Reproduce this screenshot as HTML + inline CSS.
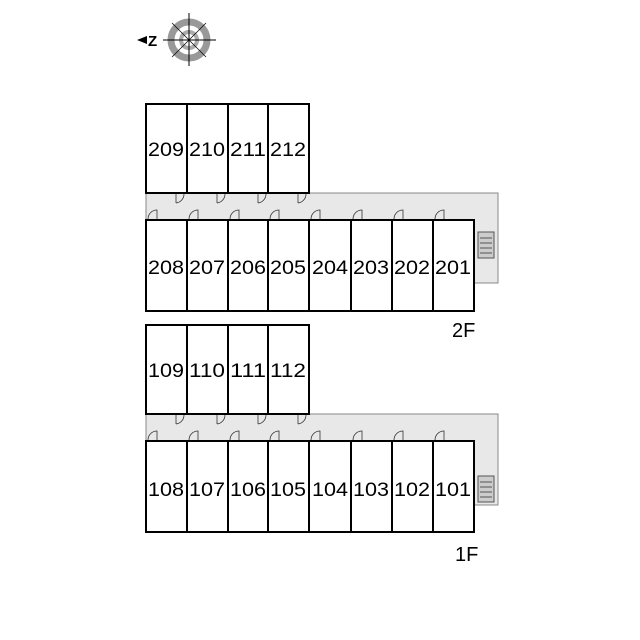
<!DOCTYPE html>
<html><head><style>body{margin:0;background:#fff}svg{display:block}</style></head><body>
<svg width="640" height="640" viewBox="0 0 640 640" xmlns="http://www.w3.org/2000/svg" font-family="Liberation Sans, sans-serif">
<g>
<circle cx="189" cy="40" r="18" fill="none" stroke="#999" stroke-width="7"/>
<circle cx="189" cy="40" r="8" fill="none" stroke="#aaa" stroke-width="4"/>
<line x1="189" y1="13" x2="189" y2="66" stroke="#000"/>
<line x1="163" y1="40" x2="216" y2="40" stroke="#000"/>
<line x1="172" y1="23" x2="206" y2="57" stroke="#000" stroke-width="0.7"/>
<line x1="206" y1="23" x2="172" y2="57" stroke="#000" stroke-width="0.7"/>
<polygon points="137,40 147,36 147,44" fill="#000"/>
<text x="148" y="46" font-size="15" font-weight="bold">Z</text>
</g>
<g>
<path d="M146,193 H498 V283 H474 V220 H146 Z" fill="#e8e8e8" stroke="#888"/>
<g fill="#fff" stroke="#000" stroke-width="2">
<rect x="146" y="104" width="41" height="89"/><rect x="187" y="104" width="41" height="89"/><rect x="228" y="104" width="40" height="89"/><rect x="268" y="104" width="41" height="89"/>
<rect x="146" y="220" width="41" height="91"/><rect x="187" y="220" width="41" height="91"/><rect x="228" y="220" width="40" height="91"/><rect x="268" y="220" width="41" height="91"/><rect x="309" y="220" width="42" height="91"/><rect x="351" y="220" width="41" height="91"/><rect x="392" y="220" width="41" height="91"/><rect x="433" y="220" width="41" height="91"/>
</g>
<rect x="478" y="232" width="16" height="26" fill="#ccc" stroke="#555"/>
<g stroke="#555"><line x1="480" y1="238" x2="492" y2="238"/><line x1="480" y1="243" x2="492" y2="243"/><line x1="480" y1="248" x2="492" y2="248"/><line x1="480" y1="253" x2="492" y2="253"/></g>
<g font-size="19" text-anchor="middle" textLength="36">
<text x="166" y="156" textLength="36" lengthAdjust="spacingAndGlyphs">209</text><text x="207" y="156" textLength="36" lengthAdjust="spacingAndGlyphs">210</text><text x="248" y="156" textLength="36" lengthAdjust="spacingAndGlyphs">211</text><text x="288" y="156" textLength="36" lengthAdjust="spacingAndGlyphs">212</text>
<text x="166" y="274" textLength="36" lengthAdjust="spacingAndGlyphs">208</text><text x="207" y="274" textLength="36" lengthAdjust="spacingAndGlyphs">207</text><text x="248" y="274" textLength="36" lengthAdjust="spacingAndGlyphs">206</text><text x="288" y="274" textLength="36" lengthAdjust="spacingAndGlyphs">205</text><text x="330" y="274" textLength="36" lengthAdjust="spacingAndGlyphs">204</text><text x="371" y="274" textLength="36" lengthAdjust="spacingAndGlyphs">203</text><text x="412" y="274" textLength="36" lengthAdjust="spacingAndGlyphs">202</text><text x="453" y="274" textLength="36" lengthAdjust="spacingAndGlyphs">201</text>
</g>
<text x="452" y="337" font-size="20">2F</text>
<g fill="none" stroke="#333" stroke-width="0.8">
<path d="M176,203 A9,9 0 0 0 184,194 M176,194 V203"/><path d="M217,203 A9,9 0 0 0 225,194 M217,194 V203"/><path d="M258,203 A9,9 0 0 0 266,194 M258,194 V203"/><path d="M298,203 A9,9 0 0 0 306,194 M298,194 V203"/>
<path d="M148,219 A9,9 0 0 1 157,210 V219"/><path d="M189,219 A9,9 0 0 1 198,210 V219"/><path d="M230,219 A9,9 0 0 1 239,210 V219"/><path d="M270,219 A9,9 0 0 1 279,210 V219"/><path d="M311,219 A9,9 0 0 1 320,210 V219"/><path d="M353,219 A9,9 0 0 1 362,210 V219"/><path d="M394,219 A9,9 0 0 1 403,210 V219"/><path d="M435,219 A9,9 0 0 1 444,210 V219"/>
</g>
</g>
<g>
<path d="M146,414 H498 V505 H474 V441 H146 Z" fill="#e8e8e8" stroke="#888"/>
<g fill="#fff" stroke="#000" stroke-width="2">
<rect x="146" y="325" width="41" height="89"/><rect x="187" y="325" width="41" height="89"/><rect x="228" y="325" width="40" height="89"/><rect x="268" y="325" width="41" height="89"/>
<rect x="146" y="441" width="41" height="91"/><rect x="187" y="441" width="41" height="91"/><rect x="228" y="441" width="40" height="91"/><rect x="268" y="441" width="41" height="91"/><rect x="309" y="441" width="42" height="91"/><rect x="351" y="441" width="41" height="91"/><rect x="392" y="441" width="41" height="91"/><rect x="433" y="441" width="41" height="91"/>
</g>
<rect x="478" y="476" width="16" height="26" fill="#ccc" stroke="#555"/>
<g stroke="#555"><line x1="480" y1="482" x2="492" y2="482"/><line x1="480" y1="487" x2="492" y2="487"/><line x1="480" y1="492" x2="492" y2="492"/><line x1="480" y1="497" x2="492" y2="497"/></g>
<g font-size="19" text-anchor="middle">
<text x="166" y="377" textLength="36" lengthAdjust="spacingAndGlyphs">109</text><text x="207" y="377" textLength="36" lengthAdjust="spacingAndGlyphs">110</text><text x="248" y="377" textLength="36" lengthAdjust="spacingAndGlyphs">111</text><text x="288" y="377" textLength="36" lengthAdjust="spacingAndGlyphs">112</text>
<text x="166" y="496" textLength="36" lengthAdjust="spacingAndGlyphs">108</text><text x="207" y="496" textLength="36" lengthAdjust="spacingAndGlyphs">107</text><text x="248" y="496" textLength="36" lengthAdjust="spacingAndGlyphs">106</text><text x="288" y="496" textLength="36" lengthAdjust="spacingAndGlyphs">105</text><text x="330" y="496" textLength="36" lengthAdjust="spacingAndGlyphs">104</text><text x="371" y="496" textLength="36" lengthAdjust="spacingAndGlyphs">103</text><text x="412" y="496" textLength="36" lengthAdjust="spacingAndGlyphs">102</text><text x="453" y="496" textLength="36" lengthAdjust="spacingAndGlyphs">101</text>
</g>
<text x="455" y="561" font-size="20">1F</text>
<g fill="none" stroke="#333" stroke-width="0.8">
<path d="M176,424 A9,9 0 0 0 184,415 M176,415 V424"/><path d="M217,424 A9,9 0 0 0 225,415 M217,415 V424"/><path d="M258,424 A9,9 0 0 0 266,415 M258,415 V424"/><path d="M298,424 A9,9 0 0 0 306,415 M298,415 V424"/>
<path d="M148,440 A9,9 0 0 1 157,431 V440"/><path d="M189,440 A9,9 0 0 1 198,431 V440"/><path d="M230,440 A9,9 0 0 1 239,431 V440"/><path d="M270,440 A9,9 0 0 1 279,431 V440"/><path d="M311,440 A9,9 0 0 1 320,431 V440"/><path d="M353,440 A9,9 0 0 1 362,431 V440"/><path d="M394,440 A9,9 0 0 1 403,431 V440"/><path d="M435,440 A9,9 0 0 1 444,431 V440"/>
</g>
</g>
</svg>
</body></html>
